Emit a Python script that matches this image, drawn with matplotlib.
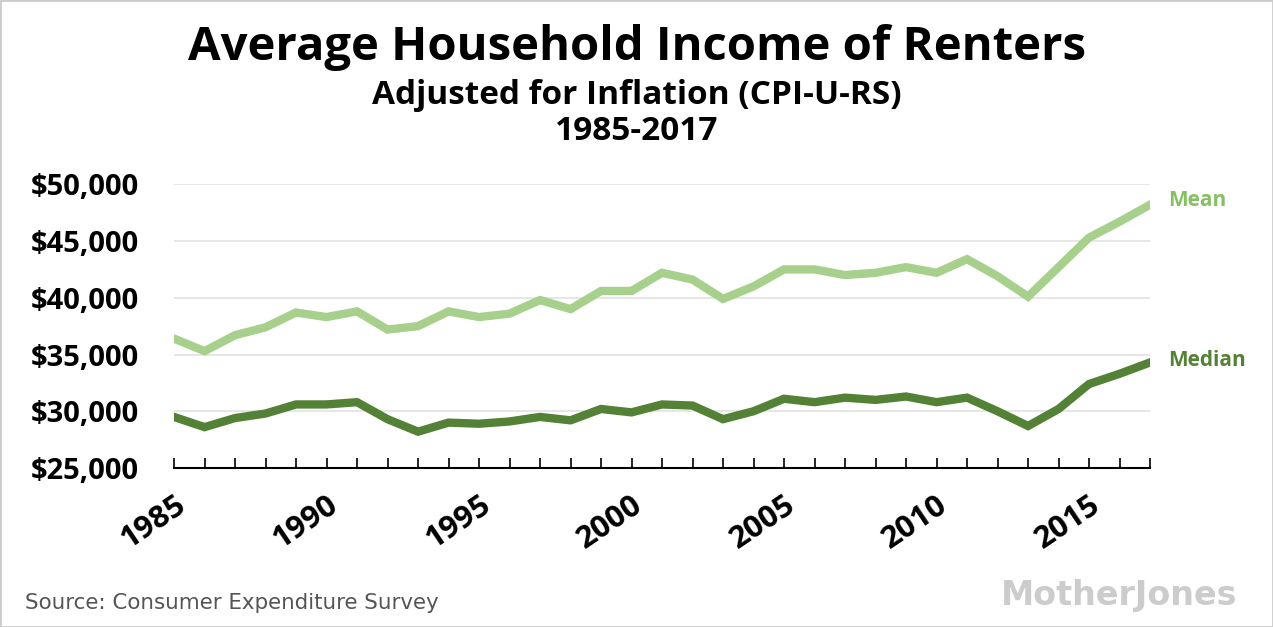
import matplotlib.pyplot as plt
from matplotlib.patches import Rectangle

years = list(range(1985, 2018))
mean_income = [36400, 35300, 36700, 37400, 38700, 38300, 38800, 37200, 37500, 38800,
               38300, 38600, 39800, 39000, 40600, 40600, 42200, 41600, 39900, 41000,
               42500, 42500, 42000, 42200, 42700, 42200, 43400, 41900, 40100, 42700,
               45300, 46700, 48200]
median_income = [29500, 28600, 29400, 29800, 30600, 30600, 30800, 29300, 28200, 29000,
                 28900, 29100, 29500, 29200, 30200, 29900, 30600, 30500, 29300, 30000,
                 31100, 30800, 31200, 31000, 31300, 30800, 31200, 30000, 28700, 30200,
                 32400, 33300, 34300]
y_ticks = [25000, 30000, 35000, 40000, 45000, 50000]
x_ticks = [1985, 1990, 1995, 2000, 2005, 2010, 2015]

MEAN_COLOR = '#a8d08d'
MEDIAN_COLOR = '#538135'
FONT = 'Open Sans'


def main():
    fig = plt.figure(figsize=(12.73, 6.27), dpi=100)
    ax = fig.add_axes([0.1367, 0.2536, 0.7667, 0.4525])

    ax.plot(years, mean_income, color=MEAN_COLOR, lw=6, solid_joinstyle='miter', zorder=3)
    ax.plot(years, median_income, color=MEDIAN_COLOR, lw=6, solid_joinstyle='miter', zorder=3)

    ax.set_xlim(1985, 2017)
    ax.set_ylim(25000, 50000)
    ax.set_yticks(y_ticks)
    ax.set_yticklabels(['${:,}'.format(v) for v in y_ticks], fontsize=21,
                       fontweight='bold', family=FONT)
    ax.set_xticks(years, minor=True)
    ax.set_xticks(x_ticks)
    ax.set_xticklabels([str(x) for x in x_ticks], fontsize=22.5, fontweight='bold',
                       family=FONT, rotation=34, ha='right', rotation_mode='anchor')
    ax.tick_params(axis='x', which='both', direction='in', length=7, width=1.2, pad=16)
    ax.tick_params(axis='y', length=0, pad=25)
    ax.grid(axis='y', color='#e2e2e2', lw=1.2, zorder=0)
    for s in ['top', 'right', 'left']:
        ax.spines[s].set_visible(False)
    ax.spines['bottom'].set_linewidth(1.5)

    ax.text(2017.6, mean_income[-1] + 400, 'Mean', color='#86c065', fontsize=15,
            fontweight='bold', family=FONT, va='center', clip_on=False)
    ax.text(2017.6, median_income[-1] + 200, 'Median', color=MEDIAN_COLOR, fontsize=15,
            fontweight='bold', family=FONT, va='center', clip_on=False)

    fig.text(0.5, 0.925, 'Average Household Income of Renters', ha='center', va='center',
             fontsize=34, fontweight='bold', family=FONT)
    fig.text(0.5, 0.848, 'Adjusted for Inflation (CPI-U-RS)', ha='center', va='center',
             fontsize=24, fontweight='bold', family=FONT)
    fig.text(0.5, 0.79, '1985-2017', ha='center', va='center',
             fontsize=24, fontweight='bold', family=FONT)

    fig.text(0.02, 0.038, 'Source: Consumer Expenditure Survey', ha='left', va='center',
             fontsize=15.4, color='#555555', family='DejaVu Sans')
    fig.text(0.972, 0.05, 'MotherJones', ha='right', va='center', fontsize=24,
             fontweight='bold', color='#cccccc', family=['Liberation Sans Narrow', 'DejaVu Sans'])

    fig.patches.append(Rectangle((0, 0), 1, 1, transform=fig.transFigure, fill=False,
                                 edgecolor='#cccccc', lw=2))

    fig.savefig('out.png', dpi=100)


if __name__ == '__main__':
    main()
